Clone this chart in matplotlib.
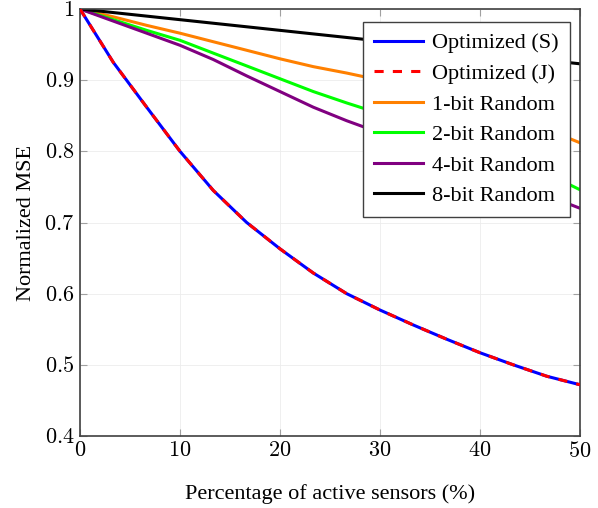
import numpy as np
import matplotlib.pyplot as plt
from matplotlib.ticker import FuncFormatter

plt.rcParams['font.family'] = ['Liberation Serif', 'DejaVu Serif']
plt.rcParams['mathtext.fontset'] = 'cm'

# percentage of active sensors
pct = [0, 3.33, 6.67, 10, 13.33, 16.67, 20, 23.33, 26.67, 30,
       33.33, 36.67, 40, 43.33, 46.67, 50]

opt_s = [1.0, 0.925, 0.862, 0.800, 0.745, 0.700, 0.663, 0.629, 0.600, 0.577,
         0.556, 0.536, 0.517, 0.500, 0.484, 0.472]
opt_j = [1.0, 0.925, 0.862, 0.800, 0.745, 0.700, 0.663, 0.629, 0.600, 0.577,
         0.556, 0.536, 0.517, 0.500, 0.484, 0.472]
rand_1bit = [1.0, 0.989, 0.977, 0.966, 0.954, 0.942, 0.930, 0.919, 0.910, 0.900,
             0.888, 0.875, 0.862, 0.848, 0.831, 0.812]
rand_2bit = [1.0, 0.985, 0.970, 0.956, 0.938, 0.920, 0.902, 0.884, 0.868, 0.853,
             0.837, 0.821, 0.805, 0.788, 0.769, 0.746]
rand_4bit = [1.0, 0.983, 0.966, 0.949, 0.929, 0.906, 0.884, 0.862, 0.843, 0.826,
             0.809, 0.792, 0.775, 0.757, 0.738, 0.720]
rand_8bit = [1.0, 0.995, 0.990, 0.985, 0.980, 0.975, 0.970, 0.965, 0.960, 0.955,
             0.950, 0.945, 0.939, 0.934, 0.928, 0.923]

fig = plt.figure(figsize=(5.98, 5.08), dpi=100)
ax = fig.add_axes([80/598, 72/508, 500/598, 427/508])

lw = 2.2
ax.plot(pct, opt_s, color='#0000ff', lw=lw, label='Optimized (S)', zorder=3)
ax.plot(pct, opt_j, color='#ff0000', lw=lw, ls=(0, (3, 3)), label='Optimized (J)', zorder=4)
ax.plot(pct, rand_1bit, color='#ff8000', lw=lw, label='1-bit Random')
ax.plot(pct, rand_2bit, color='#00ff00', lw=lw, label='2-bit Random')
ax.plot(pct, rand_4bit, color='#800080', lw=lw, label='4-bit Random')
ax.plot(pct, rand_8bit, color='black', lw=lw, label='8-bit Random')

ax.set_xlim(0, 50)
ax.set_ylim(0.4, 1.0)
ax.set_xticks([0, 10, 20, 30, 40, 50])
ax.set_yticks([0.4, 0.5, 0.6, 0.7, 0.8, 0.9, 1.0])
ax.xaxis.set_major_formatter(FuncFormatter(lambda v, p: f'${v:g}$'))
ax.yaxis.set_major_formatter(FuncFormatter(lambda v, p: f'${v:g}$'))
ax.tick_params(direction='in', length=5, width=0.8, color='#a0a0a0',
               top=True, right=True, labelsize=16, pad=4)
ax.grid(True, color='#ececec', lw=0.6)
for s in ax.spines.values():
    s.set_color('#404040')
    s.set_linewidth(1.2)

ax.set_xlabel('Percentage of active sensors (%)', fontsize=16, labelpad=16)
ax.set_ylabel('Normalized MSE', fontsize=16, labelpad=6)

leg = ax.legend(loc='upper right', bbox_to_anchor=(0.98, 0.97), fontsize=16,
                frameon=True, fancybox=False, edgecolor='#404040',
                handlelength=2.2, borderpad=0.5, labelspacing=0.45,
                handletextpad=0.4, borderaxespad=0)
leg.get_frame().set_linewidth(1.0)
leg.get_frame().set_alpha(1)

fig.savefig('out.png', dpi=100)
